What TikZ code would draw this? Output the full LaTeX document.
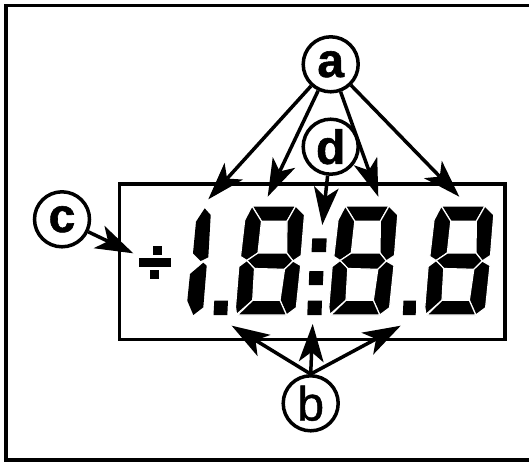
\documentclass[tikz,border=0pt]{standalone}
\usepackage{fontspec}
\setmainfont{Liberation Sans}
\newfontfamily\lblbold[FakeBold=1.2]{Liberation Sans Bold}
\newfontfamily\lblreg[FakeBold=1.0]{Liberation Sans}
\usetikzlibrary{arrows.meta}
\tikzset{
  callout/.style={circle,draw=black,line width=3.5pt,fill=white,minimum size=55pt,inner sep=0pt,font=\fontsize{48}{48}\lblbold},
  pointer/.style={line width=3.5pt,-{Stealth[length=38pt,width=25pt,inset=10pt,line width=0pt]}},
  framing/.style={line width=3.5pt,line cap=butt},
  segment/.style={fill=black,draw=white,line width=1.2pt,line join=miter},
}
\newcommand{\eightseg}[1]{%
\begin{scope}[xshift=#1]
\path[segment] (252,206)--(295.7,206)--(287,221.3)--(261.5,221.3)--cycle;
\path[segment] (252,206)--(261.5,221.3)--(258,253)--(246.8,260.5)--(240.5,256.5)--(244.7,220)--cycle;
\path[segment] (295.7,206)--(304.5,214.7)--(301.2,255.5)--(293,261)--(286.7,253)--(287,221.3)--cycle;
\path[segment] (246.8,260.5)--(258,253)--(286.7,253)--(293,261)--(284.5,269.3)--(254.5,268.5)--cycle;
\path[segment] (246.8,260.5)--(254.5,268.5)--(252.7,300.3)--(236.5,314.5)--(235.5,307)--(238.8,266.5)--cycle;
\path[segment] (293,261)--(300.7,265.5)--(296.3,307.7)--(286.5,315)--(280,300.3)--(284.5,269.3)--cycle;
\path[segment] (237.5,315)--(252.7,300.3)--(280,300.3)--(286.5,315)--cycle;
\end{scope}}
\begin{document}
\begin{tikzpicture}[x=1pt,y=-1pt]
\useasboundingbox (0,0) rectangle (529,461);
\clip (0,0) rectangle (529,461);
\fill[white] (0,0) rectangle (529,461);
% outer frame
\draw[framing] (529,5.7) -- (5.8,5.7) -- (5.8,460) -- (529,460);
% display
\draw[line width=3.5pt] (119.3,184) rectangle (505,339.3);
% division sign
\fill (152.7,245.7) rectangle (162,255);
\fill (139.3,257.7) rectangle (170.7,267);
\fill (149.7,270) rectangle (159,279);
% digit 1
\fill (204.7,208.3)--(210.7,215)--(208.3,257.3)--(200.7,261)--(193,253.3)--(196,221.7)--cycle;
\fill (203.3,262.7)--(206.7,265.7)--(203.3,307.3)--(193.3,315)--(187.3,300.7)--(190,274)--cycle;
\fill (214.3,300.7)--(228,300.7)--(227.3,315)--(213.5,315)--cycle;
% digits 8
\eightseg{0}
\eightseg{93.3}
\eightseg{189.3}
% colon and points
\fill (312.3,238.3)--(326.7,238.3)--(326,252)--(311.5,252)--cycle;
\fill (309.3,271)--(323.5,271)--(322.8,285)--(308.8,285)--cycle;
\fill (307.8,300.7)--(322,300.7)--(321.5,315)--(307.3,315)--cycle;
\fill (403.5,300.7)--(416,300.7)--(415.7,315)--(402.8,315)--cycle;
% callouts
\node[callout] (a) at (330.7,64.3) {a};
\node[callout] (d) at (330.7,146.7) {d};
\node[callout] (c) at (62,219.3) {c};
\node[callout,font=\fontsize{48}{48}\lblreg] (b) at (310.7,403.3) {b};
% targets
\coordinate (a1) at (208.3,199.3);
\coordinate (a2) at (267.7,196.7);
\coordinate (a3) at (378.3,196.7);
\coordinate (a4) at (459.3,196.7);
\coordinate (d1) at (322.3,225);
\coordinate (c1) at (133.3,253.3);
\coordinate (b1) at (231.7,325.7);
\coordinate (b2) at (312.7,324);
\coordinate (b3) at (400.7,325.7);
% connectors
\draw[pointer] (a) -- (a1);
\draw[pointer] (a) -- (a2);
\draw[pointer] (a) -- (a3);
\draw[pointer] (a) -- (a4);
\draw[pointer] (d) -- (d1);
\draw[pointer] (c) -- (c1);
\draw[pointer] (b.north) -- (b1);
\draw[pointer] (b.north) -- (b2);
\draw[pointer] (b.north) -- (b3);
\end{tikzpicture}
\end{document}
